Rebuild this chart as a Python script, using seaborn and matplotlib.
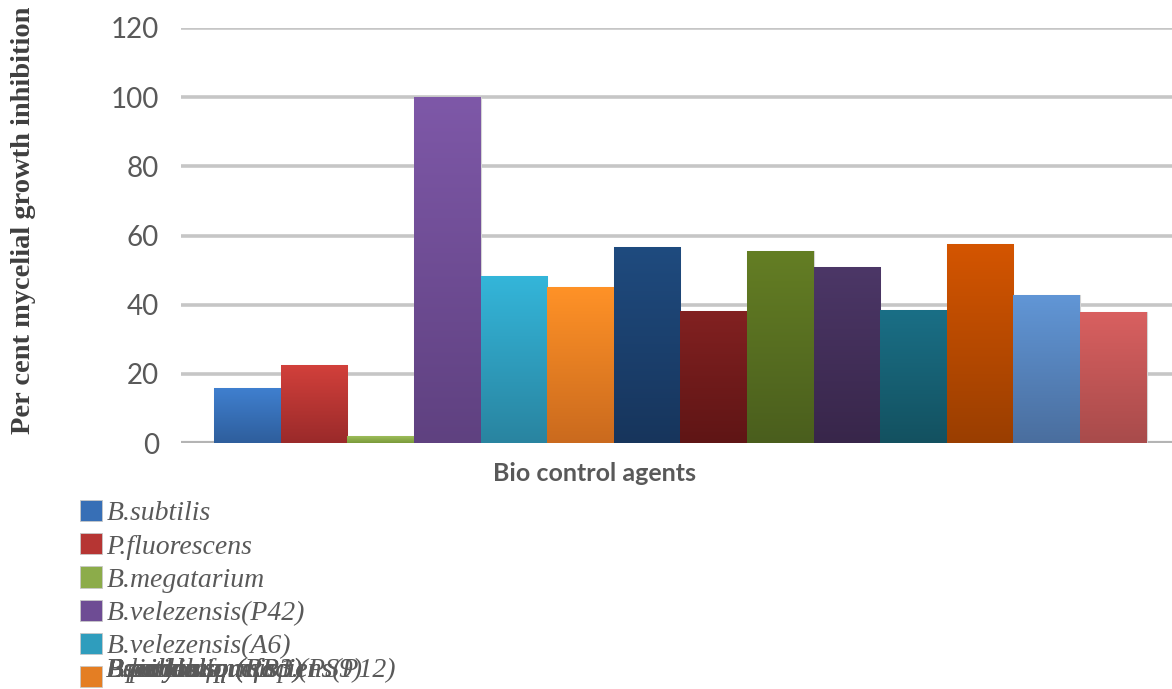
"""
Per cent mycelial growth inhibition by bio control agents (Excel-style bar chart).
"""

import numpy as np
import pandas as pd
import matplotlib
matplotlib.use('Agg')
import matplotlib.pyplot as plt
import matplotlib.colors as mcolors
from matplotlib.patches import Patch
from matplotlib.transforms import IdentityTransform
import seaborn as sns

agents = [
    'B.subtilis', 'P.fluorescens', 'B.megatarium', 'B.velezensis(P42)',
    'B.velezensis(A6)', 'B.amyloliquefaciens', 'B.pumilus', 'P.putida',
    'B.licheniformis', 'B.cereus', 'Bacillus sp.(RP1)', 'Bacillus sp.(RP3)',
    'Pseudomonas sp.(PS9)', 'B.amyloliquefaciens(P12)',
]
inhibition = [16.0, 22.5, 2.0, 100.0, 48.3, 45.0, 56.7, 38.2,
              55.5, 50.8, 38.4, 57.5, 42.7, 37.9]

# gradient colours of each bar, top -> bottom
top_colors = ['#4080d0', '#d2403b', '#9dbd5a', '#7e58a8', '#34b6da', '#ff9227',
              '#1f4b7f', '#822121', '#647e24', '#4c3767', '#1a6f86', '#d45500',
              '#6196d6', '#d96060']
bottom_colors = ['#2e5e9c', '#9a2a2a', '#7a9a3a', '#5f4180', '#2984a0', '#ca6a1e',
                 '#17355c', '#5f1515', '#4a5e1d', '#38264a', '#135160', '#9a3e00',
                 '#4a6e9e', '#a84b4b']

TICK_GREY = '#595959'
GRID_GREY = '#c6c6c6'


def gradient_fill(ax, patch, c_top, c_bottom):
    """Overlay a vertical gradient clipped to a bar."""
    x, y = patch.get_x(), patch.get_y()
    w, h = patch.get_width(), patch.get_height()
    t = np.linspace(0, 1, 256)[:, None, None]
    c1 = np.array(mcolors.to_rgb(c_top))[None, None, :]
    c2 = np.array(mcolors.to_rgb(c_bottom))[None, None, :]
    grad = c1 * (1 - t) + c2 * t
    im = ax.imshow(grad, extent=[x, x + w, y, y + h], aspect='auto',
                   origin='upper', zorder=2.1, interpolation='bilinear')
    im.set_clip_path(patch)


sns.set_style('white')
plt.rcParams['font.family'] = ['Lato', 'DejaVu Sans']

df = pd.DataFrame({'agent': agents, 'value': inhibition})

fig = plt.figure(figsize=(11.72, 6.89), dpi=100)
ax = fig.add_axes([181 / 1172, 1 - 443 / 689, 999 / 1172, 415 / 689])

mid_colors = [mcolors.to_hex((np.array(mcolors.to_rgb(a)) + np.array(mcolors.to_rgb(b))) / 2)
              for a, b in zip(top_colors, bottom_colors)]

sns.barplot(data=df, x='agent', y='value', hue='agent', palette=mid_colors,
            width=1.0, legend=False, ax=ax, edgecolor='#d4d4d4', linewidth=0.8,
            zorder=2)

for patch, ct, cb in zip(ax.patches, top_colors, bottom_colors):
    gradient_fill(ax, patch, ct, cb)

ax.set_xlim(-1.0, 14.0)
ax.set_ylim(0, 120)
ax.set_yticks(range(0, 121, 20))
ax.set_xticks([])
ax.yaxis.grid(True, color=GRID_GREY, linewidth=2.6)
ax.set_axisbelow(True)
ax.axhline(0, color='#b4b4b4', linewidth=3, zorder=1)
for s in ax.spines.values():
    s.set_visible(False)
ax.tick_params(axis='y', length=0, pad=16, labelsize=20, labelcolor=TICK_GREY)

ax.set_xlabel('Bio control agents', fontsize=18, fontweight='bold', color=TICK_GREY)
ax.xaxis.set_label_coords((595 - 181) / 999, -0.045)
ax.set_ylabel('')
fig.text(24 / 1172, 1 - 220 / 689, 'Per cent mycelial growth inhibition',
         rotation=90, ha='center', va='center', fontsize=20.5, fontweight='bold',
         family=['Liberation Serif'], color='#3f3f3f')

# legend: first six rows, remaining labels collapse on the last row
handles = [Patch(facecolor=c, edgecolor='#c8c8c8', linewidth=0.6) for c in mid_colors[:6]]
leg = fig.legend(handles, agents[:6], loc='upper left',
                 bbox_to_anchor=(80 / 1172, 1 - 500 / 689), frameon=False,
                 prop={'family': 'Liberation Serif', 'style': 'italic', 'size': 20},
                 handlelength=0.8, handleheight=0.8, handletextpad=0.15,
                 labelspacing=0.25, borderaxespad=0, borderpad=0)
for t in leg.get_texts():
    t.set_color(TICK_GREY)

fig.canvas.draw()
last = leg.get_texts()[5]
px, py = last.get_transform().transform(last.get_position())
py += 9
last.set_visible(False)
for label in agents[5:]:
    fig.text(px, py, label, transform=IdentityTransform(),
             ha=last.get_ha(), va=last.get_va(), color=TICK_GREY,
             family='Liberation Serif', style='italic', fontsize=20)

fig.savefig('out.png', dpi=100)
